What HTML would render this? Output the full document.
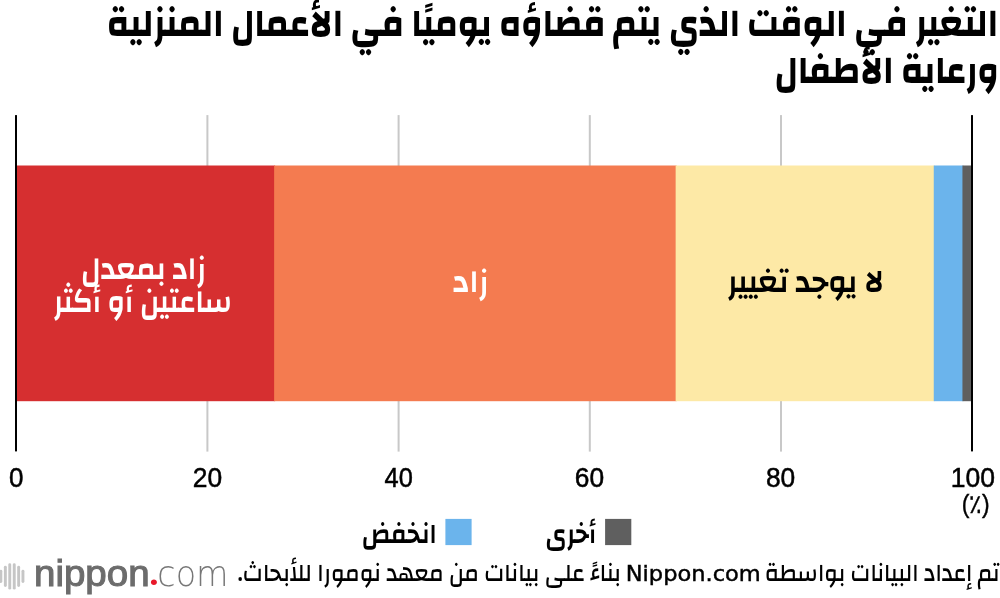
<!DOCTYPE html>
<html lang="ar">
<head>
<meta charset="utf-8">
<title>التغير في الوقت الذي يتم قضاؤه يوميًا في الأعمال المنزلية ورعاية الأطفال</title>
<style>
  html, body { margin: 0; padding: 0; background: #fff; }
  body { width: 1000px; height: 598px; overflow: hidden; }
  svg { display: block; }
  text { white-space: pre; }
</style>
</head>
<body>
<svg width="1000" height="598" viewBox="0 0 1000 598">
  <rect id="bg" x="0" y="0" width="1000" height="598" fill="#ffffff"/>

  <g id="grid" fill="#c8c8c8">
    <rect x="206.40" y="115.1" width="2" height="336.5"/>
    <rect x="397.60" y="115.1" width="2" height="336.5"/>
    <rect x="588.80" y="115.1" width="2" height="336.5"/>
    <rect x="780.00" y="115.1" width="2" height="336.5"/>
  </g>
  <g id="bars">
    <rect x="16.00" y="165.5" width="259.12" height="235.70" fill="#d62f30"/>
    <rect x="274.12" y="165.5" width="402.52" height="235.70" fill="#f47b50"/>
    <rect x="675.64" y="165.5" width="259.12" height="235.70" fill="#fde9a6"/>
    <rect x="933.76" y="165.5" width="29.68" height="235.70" fill="#6bb4ec"/>
    <rect x="962.44" y="165.5" width="9.56" height="235.70" fill="#5f5f5f"/>
  </g>
  <g id="axes" fill="#000000">
    <rect x="15.00" y="115.1" width="2" height="336.3"/>
    <rect x="971.00" y="115.1" width="2" height="336.3"/>
  </g>
  <g id="texts">
    <text id="t1" x="106.80" y="35.60" font-family="'Changa', 'DejaVu Sans', sans-serif" font-size="40" font-weight="700" fill="#000000" textLength="891.21" lengthAdjust="spacingAndGlyphs">التغير في الوقت الذي يتم قضاؤه يوميًا في الأعمال المنزلية</text>
    <text id="t2" x="774.39" y="83.30" font-family="'Changa', 'DejaVu Sans', sans-serif" font-size="40" font-weight="700" fill="#000000" textLength="224.48" lengthAdjust="spacingAndGlyphs">ورعاية الأطفال</text>
    <text id="l1a" x="81.00" y="278.60" font-family="'Changa', 'DejaVu Sans', sans-serif" font-size="32.6" font-weight="600" fill="#ffffff" textLength="124.99" lengthAdjust="spacingAndGlyphs">زاد بمعدل</text>
    <text id="l1b" x="53.39" y="311.60" font-family="'Changa', 'DejaVu Sans', sans-serif" font-size="32.6" font-weight="600" fill="#ffffff" textLength="178.67" lengthAdjust="spacingAndGlyphs">ساعتين أو أكثر</text>
    <text id="l2" x="453.00" y="291.80" font-family="'Changa', 'DejaVu Sans', sans-serif" font-size="32.6" font-weight="600" fill="#ffffff" textLength="35.59" lengthAdjust="spacingAndGlyphs">زاد</text>
    <text id="l3" x="727.38" y="291.90" font-family="'Changa', 'DejaVu Sans', sans-serif" font-size="32.6" font-weight="600" fill="#000000" textLength="156.68" lengthAdjust="spacingAndGlyphs">لا يوجد تغيير</text>
    <text id="k0" x="8.98" y="487.00" font-family="'Liberation Sans', sans-serif" font-size="26.8" font-weight="400" fill="#000000" textLength="14.46" lengthAdjust="spacingAndGlyphs" stroke="#000000" stroke-width="0.5">0</text>
    <text id="k20" x="192.75" y="487.00" font-family="'Liberation Sans', sans-serif" font-size="26.8" font-weight="400" fill="#000000" textLength="29.37" lengthAdjust="spacingAndGlyphs" stroke="#000000" stroke-width="0.5">20</text>
    <text id="k40" x="384.59" y="487.00" font-family="'Liberation Sans', sans-serif" font-size="26.8" font-weight="400" fill="#000000" textLength="28.25" lengthAdjust="spacingAndGlyphs" stroke="#000000" stroke-width="0.5">40</text>
    <text id="k60" x="574.77" y="487.00" font-family="'Liberation Sans', sans-serif" font-size="26.8" font-weight="400" fill="#000000" textLength="29.33" lengthAdjust="spacingAndGlyphs" stroke="#000000" stroke-width="0.5">60</text>
    <text id="k80" x="765.98" y="487.00" font-family="'Liberation Sans', sans-serif" font-size="26.8" font-weight="400" fill="#000000" textLength="29.31" lengthAdjust="spacingAndGlyphs" stroke="#000000" stroke-width="0.5">80</text>
    <text id="k100" x="950.75" y="487.00" font-family="'Liberation Sans', sans-serif" font-size="26.8" font-weight="400" fill="#000000" textLength="44.26" lengthAdjust="spacingAndGlyphs" stroke="#000000" stroke-width="0.5">100</text>
    <text id="pct" x="961.83" y="513.20" font-family="'Liberation Sans', sans-serif" font-size="25.5" font-weight="400" fill="#000000" textLength="27.81" lengthAdjust="spacingAndGlyphs" stroke="#000000" stroke-width="0.4">(٪)</text>
    <text id="g1" x="361.78" y="543.30" font-family="'Changa', 'DejaVu Sans', sans-serif" font-size="28.6" font-weight="600" fill="#000000" textLength="74.92" lengthAdjust="spacingAndGlyphs">انخفض</text>
    <text id="g2" x="545.16" y="543.30" font-family="'Changa', 'DejaVu Sans', sans-serif" font-size="28.6" font-weight="600" fill="#000000" textLength="50.93" lengthAdjust="spacingAndGlyphs">أخرى</text>
    <text id="fa" x="764.78" y="581.20" font-family="'Changa', 'DejaVu Sans', sans-serif" font-size="25.5" font-weight="500" fill="#000000" textLength="234.84" lengthAdjust="spacingAndGlyphs">تم إعداد البيانات بواسطة</text>
    <text id="fn" x="625.76" y="581.40" font-family="'DejaVu Sans', sans-serif" font-size="21.6" font-weight="400" fill="#000000" textLength="135.04" lengthAdjust="spacingAndGlyphs" stroke="#000000" stroke-width="0.45">Nippon.com</text>
    <text id="fb" x="237.40" y="581.20" font-family="'Changa', 'DejaVu Sans', sans-serif" font-size="25.5" font-weight="500" fill="#000000" textLength="383.61" lengthAdjust="spacingAndGlyphs">بناءً على بيانات من معهد نومورا للأبحاث.&#x200F;</text>
    <text id="lg1" x="34.00" y="586.00" font-family="'Liberation Sans', sans-serif" font-size="37.5" font-weight="400" fill="#6c6c6c" textLength="115.54" lengthAdjust="spacingAndGlyphs" stroke="#6c6c6c" stroke-width="1.1">nippon</text>
    <text id="lg2" x="157.30" y="586.00" font-family="'DejaVu Sans', sans-serif" font-size="35.5" font-weight="200" fill="#777777" textLength="71.26" lengthAdjust="spacingAndGlyphs">com</text>
    <text id="lgd" x="147.60" y="585.30" font-family="'Liberation Serif', serif" font-size="47" font-weight="400" fill="#e8182a" textLength="12.82" lengthAdjust="spacingAndGlyphs">.</text>
  </g>
  <g id="logo">
    <g fill="#c6c6c6">
      <rect x="-0.6" y="569.7" width="2.9" height="13.3" rx="1.45"/>
      <rect x="3.9" y="565.8" width="2.9" height="21.2" rx="1.45"/>
      <rect x="8.3" y="563.2" width="2.9" height="26.4" rx="1.45"/>
      <rect x="12.8" y="563.2" width="2.9" height="26.4" rx="1.45"/>
      <rect x="17.2" y="565.8" width="2.9" height="21.2" rx="1.45"/>
      <rect x="21.5" y="569.7" width="2.9" height="13.3" rx="1.45"/>
    </g>
  </g>
  <g id="legend">
    <rect x="445.4" y="518.9" width="26.2" height="26.2" fill="#6bb4ec"/>
    <rect x="605.1" y="518.9" width="26.2" height="26.2" fill="#5f5f5f"/>
  </g>

</svg>
</body>
</html>
